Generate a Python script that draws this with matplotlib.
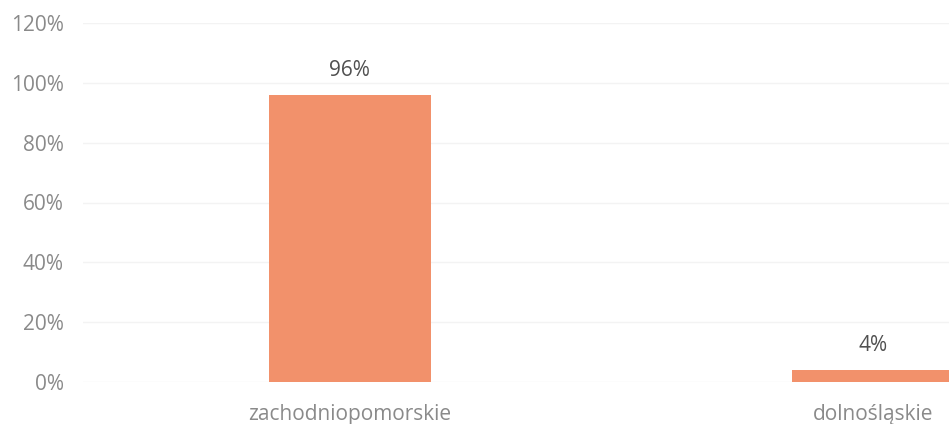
import numpy as np
import matplotlib.pyplot as plt
from matplotlib.ticker import FuncFormatter

# data
regions = ["zachodniopomorskie", "dolnośląskie"]
shares = [0.96, 0.04]
share_labels = ["96%", "4%"]

plt.rcParams['font.family'] = ['Open Sans', 'DejaVu Sans']

fig = plt.figure(figsize=(9.49, 4.24), dpi=100)
ax = fig.add_axes([83/949, 42/424, 1 - 83/949, (382 - 23)/424])

x = np.arange(len(regions))
bars = ax.bar(x, shares, width=0.31, color='#F2916B', zorder=2)

for b, lab in zip(bars, share_labels):
    ax.annotate(lab, (b.get_x() + b.get_width()/2, b.get_height()),
                xytext=(0, 10), textcoords='offset points',
                ha='center', va='bottom', fontsize=15, color='#505050')

ax.set_xlim(-0.51, 1.145)
ax.set_ylim(0, 1.2)
ax.set_yticks(np.arange(0, 1.21, 0.2))
ax.yaxis.set_major_formatter(FuncFormatter(lambda v, p: f"{v*100:.0f}%"))
ax.set_xticks(x)
ax.set_xticklabels(regions)
ax.tick_params(axis='both', length=0, labelsize=15, colors='#8a8a8a')
ax.tick_params(axis='y', pad=14)
ax.tick_params(axis='x', pad=16)

ax.grid(axis='y', color='#f3f3f3', linewidth=1, zorder=0)
for s in ax.spines.values():
    s.set_visible(False)

plt.savefig('out.png', dpi=100)
